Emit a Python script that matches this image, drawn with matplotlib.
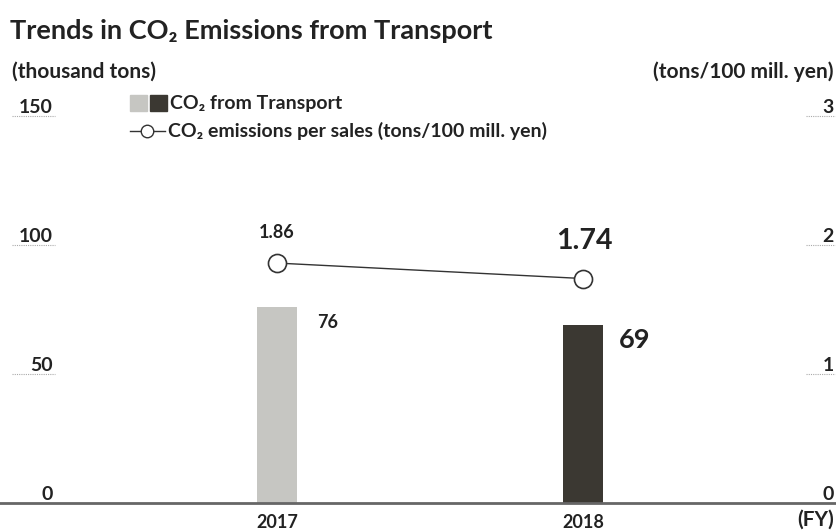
import matplotlib.pyplot as plt
from matplotlib.patches import Rectangle
from matplotlib.lines import Line2D

# chart data
years = ["2017", "2018"]
co2_transport = [76, 69]             # thousand tons
co2_per_sales = [1.86, 1.74]         # tons / 100 mill. yen
bar_colors = ["#c6c6c2", "#3b3832"]
left_ticks = [0, 50, 100, 150]
right_ticks = [0, 1, 2, 3]

W, H = 837, 531
FONT = ["Lato", "DejaVu Sans"]
plt.rcParams["font.family"] = FONT
TXT = "#222222"


def fx(px):
    return px / W


def fy(py):
    return 1 - py / H


fig = plt.figure(figsize=(W / 100, H / 100), dpi=100)

# axes spans the full width; the data scale puts the years at the right pixels
y0, y150 = 503, 116
ax = fig.add_axes([0, fy(y0), 1, (y0 - y150) / H])
ax.set_ylim(0, 150)
xpos = [0, 1]
unit = 583 - 277
ax.set_xlim(-277 / unit, (W - 277) / unit)
ax.bar(xpos, co2_transport, width=40 / unit, color=bar_colors, zorder=2)

ax2 = ax.twinx()
ax2.set_ylim(0, 3)
ax2.set_xlim(ax.get_xlim())
ax2.plot(xpos, co2_per_sales, color="#333333", lw=1, marker="o", ms=13,
         mfc="white", mec="#333333", mew=1.2, zorder=3)

for a in (ax, ax2):
    a.axis("off")

# baseline
ax.plot([0, 1], [0, 0], transform=ax.get_yaxis_transform(), color="#666666",
        lw=2, clip_on=False)

# left tick labels with short dotted rules
ty = ax.get_yaxis_transform()
for t in left_ticks:
    ax.text(fx(53), t, str(t), transform=ty, ha="right", va="bottom",
            fontsize=14, fontweight="bold", color=TXT)
    if t > 0:
        ax.plot([fx(12), fx(55)], [t, t], transform=ty, color="#aaaaaa",
                lw=0.8, ls=(0, (1, 1)), clip_on=False)

ty2 = ax2.get_yaxis_transform()
for t in right_ticks:
    ax2.text(fx(834), t, str(t), transform=ty2, ha="right", va="bottom",
             fontsize=14, fontweight="bold", color=TXT)
    if t > 0:
        ax2.plot([fx(806), fx(835)], [t, t], transform=ty2, color="#aaaaaa",
                 lw=0.8, ls=(0, (1, 1)), clip_on=False)

# value labels
ax.annotate(str(co2_transport[0]), (xpos[0], co2_transport[0]), xytext=(40, -16),
            textcoords="offset pixels", ha="left", va="center",
            fontsize=13, fontweight="bold", color=TXT)
ax.annotate(str(co2_transport[1]), (xpos[1], co2_transport[1]), xytext=(36, -15),
            textcoords="offset pixels", ha="left", va="center",
            fontsize=19.5, fontweight="bold", color=TXT)
ax2.annotate(f"{co2_per_sales[0]:.2f}", (xpos[0], co2_per_sales[0]), xytext=(0, 31),
             textcoords="offset pixels", ha="center", va="center",
             fontsize=13, fontweight="bold", color=TXT)
ax2.annotate(f"{co2_per_sales[1]:.2f}", (xpos[1], co2_per_sales[1]), xytext=(1, 38),
             textcoords="offset pixels", ha="center", va="center",
             fontsize=20.5, fontweight="bold", color=TXT)

# year labels
for x, yr in zip(xpos, years):
    ax.annotate(yr, (x, 0), xytext=(0, -19), textcoords="offset pixels",
                ha="center", va="center", fontsize=13, fontweight="bold",
                color=TXT)
fig.text(fx(834), fy(520), "(FY)", ha="right", va="center", fontsize=15,
         fontweight="bold", color=TXT)

# titles
fig.text(fx(10), fy(31), "Trends in CO\u2082 Emissions from Transport",
         ha="left", va="center", fontsize=19.5, fontweight="bold", color=TXT)
fig.text(fx(12), fy(72), "(thousand tons)", ha="left", va="center",
         fontsize=15, fontweight="bold", color=TXT)
fig.text(fx(834), fy(72), "(tons/100 mill. yen)", ha="right", va="center",
         fontsize=15, fontweight="bold", color=TXT)

# legend
fig.patches.append(Rectangle((fx(130), fy(111)), fx(17), 16 / H,
                             transform=fig.transFigure, color=bar_colors[0]))
fig.patches.append(Rectangle((fx(150), fy(111)), fx(17), 16 / H,
                             transform=fig.transFigure, color=bar_colors[1]))
fig.text(fx(170), fy(103), "CO\u2082 from Transport", ha="left", va="center",
         fontsize=14, fontweight="bold", color=TXT)
fig.lines.append(Line2D([fx(130), fx(165)], [fy(131), fy(131)],
                        transform=fig.transFigure, color="#333333", lw=1))
fig.lines.append(Line2D([fx(147)], [fy(131)], transform=fig.transFigure,
                        marker="o", ms=9, mfc="white", mec="#333333", mew=1))
fig.text(fx(168), fy(131), "CO\u2082 emissions per sales (tons/100 mill. yen)",
         ha="left", va="center", fontsize=14, fontweight="bold", color=TXT)

fig.savefig("out.png", dpi=100, facecolor="white")
